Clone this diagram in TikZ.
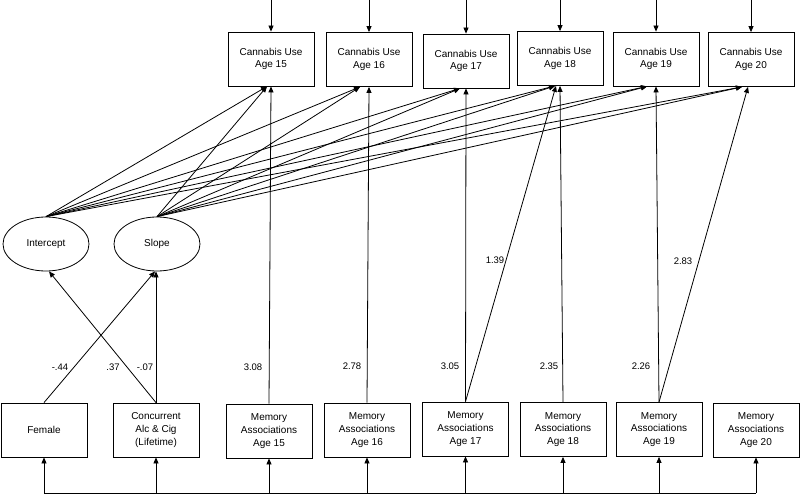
\documentclass[tikz,border=0pt]{standalone}
\usepackage{fontspec}
\setmainfont{Liberation Sans}
\usetikzlibrary{arrows.meta,shapes.geometric}
\begin{document}
\begin{tikzpicture}[x=1pt,y=-1pt,
  every path/.style={line width=0.8pt},
  arr/.style={-{Triangle[length=6pt,width=5pt]}},
  vbox/.style={draw,line width=0.8pt,minimum width=86pt,minimum height=54pt,inner sep=0pt,align=center,font=\fontsize{10}{12.6}\selectfont},
  latent/.style={draw,ellipse,line width=0.8pt,minimum width=86pt,minimum height=54pt,inner sep=0pt,font=\fontsize{10}{12}\selectfont},
  coef/.style={inner sep=0pt,font=\fontsize{9.5}{11}\selectfont}]
\useasboundingbox (0,0) rectangle (800,495);
% top boxes
\node[vbox] (c15) at (271,59) {Cannabis Use\\Age 15};
\node[vbox] (c16) at (369,59.5) {Cannabis Use\\Age 16};
\node[vbox] (c17) at (466,61) {Cannabis Use\\Age 17};
\node[vbox] (c18) at (560,58.5) {Cannabis Use\\Age 18};
\node[vbox] (c19) at (656,59) {Cannabis Use\\Age 19};
\node[vbox] (c20) at (751,59.5) {Cannabis Use\\Age 20};
% latent
\node[latent] (icpt) at (46,244) {Intercept};
\node[latent] (slope) at (157,244) {Slope};
% bottom boxes
\node[vbox] (fem) at (44,430) {Female};
\node[vbox] (conc) at (156,430) {Concurrent\\Alc \& Cig\\(Lifetime)};
\node[vbox] (m15) at (269,431) {Memory\\Associations\\Age 15};
\node[vbox] (m16) at (367,430) {Memory\\Associations\\Age 16};
\node[vbox] (m17) at (465.5,429) {Memory\\Associations\\Age 17};
\node[vbox] (m18) at (563,429.5) {Memory\\Associations\\Age 18};
\node[vbox] (m19) at (659,429.5) {Memory\\Associations\\Age 19};
\node[vbox] (m20) at (756,430) {Memory\\Associations\\Age 20};
% top residual arrows
\foreach \c in {c15,c16,c17,c18,c19,c20}{
  \coordinate (t\c) at (\c.north |- 0,0);
  \draw[arr] (t\c) -- (\c.north);
}
% latent growth arrows
\foreach \c/\s in {c15/-4,c16/-9,c17/-6,c18/-5,c19/-9,c20/-9}{
  \draw[arr] (icpt.north) -- ([xshift=\s pt]\c.south);
  \draw[arr] (slope.north) -- ([xshift=\s pt]\c.south);
}
% covariates to latent
\draw[arr] (fem.north) -- ([xshift=-2pt]slope.south);
\draw[arr] (conc.north) -- ([xshift=3pt]icpt.south);
\draw[arr] (conc.north) -- (conc.north |- slope.south);
% memory to cannabis
\draw[arr] (m15.north) -- (c15.south);
\draw[arr] (m16.north) -- (c16.south);
\draw[arr] (m17.north) -- (c17.south);
\draw[arr] (m18.north) -- (c18.south);
\draw[arr] (m19.north) -- (c19.south);
\draw[arr] (m17.north) -- ([xshift=-4pt]c18.south);
\draw[arr] (m19.north) -- ([xshift=-3pt]c20.south);
% coefficients
\node[coef] at (60,367) {-.44};
\node[coef] at (113,367) {.37};
\node[coef] at (145,367) {-.07};
\node[coef] at (253,367) {3.08};
\node[coef] at (352,366) {2.78};
\node[coef] at (450,366) {3.05};
\node[coef] at (549,366) {2.35};
\node[coef] at (641,366) {2.26};
\node[coef] at (495,260) {1.39};
\node[coef] at (683,261) {2.83};
% bottom correlation line
\coordinate (bl) at (fem.south |- 0,493);
\coordinate (br) at (m20.south |- 0,493);
\draw (bl) -- (br);
\foreach \m in {fem,conc,m15,m16,m17,m18,m19,m20}{
  \coordinate (b\m) at (\m.south |- 0,493);
  \draw[arr] (b\m) -- (\m.south);
}
\end{tikzpicture}
\end{document}
